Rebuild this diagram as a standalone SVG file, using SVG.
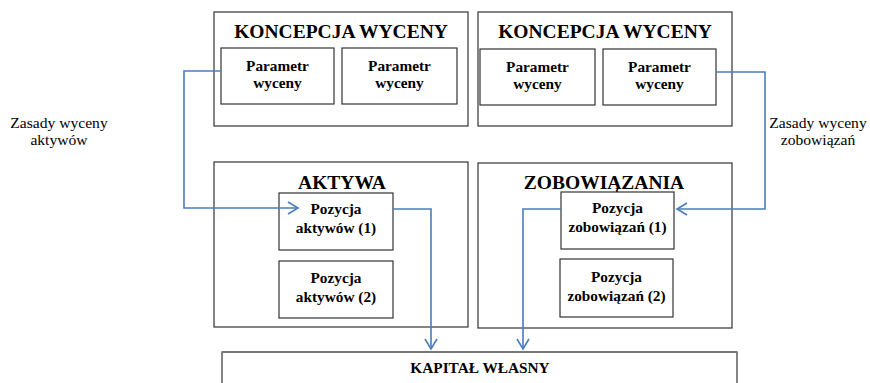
<svg xmlns="http://www.w3.org/2000/svg" width="870" height="383" viewBox="0 0 870 383">
<defs>
<marker id="chev" markerWidth="14" markerHeight="14" refX="11" refY="7" orient="auto" markerUnits="userSpaceOnUse">
<path d="M1,1 L11,7 L1,13" fill="none" stroke="#4a7ebb" stroke-width="1.6"/>
</marker>
<style>
.box{fill:#fff;stroke:#333;stroke-width:1.2}
.title{font-family:"Liberation Serif","Times New Roman",serif;font-weight:bold;font-size:19.5px;text-anchor:middle;fill:#000}
.lbl{font-family:"Liberation Serif","Times New Roman",serif;font-weight:bold;font-size:15.3px;text-anchor:middle;fill:#000}
.note{font-family:"Liberation Serif","Times New Roman",serif;font-size:15.6px;text-anchor:middle;fill:#000}
.conn{fill:none;stroke:#4a7ebb;stroke-width:1.6}
</style>
</defs>
<rect width="870" height="383" fill="#fff"/>
<g id="koncepcja1">
<rect class="box" x="214" y="12" width="254" height="114"/>
<text class="title" x="341" y="38">KONCEPCJA WYCENY</text>
</g>
<g id="param1">
<rect class="box" x="221" y="48" width="113" height="56"/>
<text class="lbl" x="277.5" y="71">Parametr</text>
<text class="lbl" x="277.5" y="88">wyceny</text>
</g>
<g id="param2">
<rect class="box" x="342" y="48" width="115" height="56"/>
<text class="lbl" x="399.5" y="71">Parametr</text>
<text class="lbl" x="399.5" y="88">wyceny</text>
</g>
<g id="koncepcja2">
<rect class="box" x="478" y="12" width="254" height="114"/>
<text class="title" x="605" y="38">KONCEPCJA WYCENY</text>
</g>
<g id="param3">
<rect class="box" x="480" y="49" width="115" height="56"/>
<text class="lbl" x="537.5" y="72">Parametr</text>
<text class="lbl" x="537.5" y="89">wyceny</text>
</g>
<g id="param4">
<rect class="box" x="603" y="49" width="113" height="56"/>
<text class="lbl" x="659.5" y="72">Parametr</text>
<text class="lbl" x="659.5" y="89">wyceny</text>
</g>
<g id="aktywa">
<rect class="box" x="214" y="162" width="254" height="165"/>
<text class="title" x="342" y="189">AKTYWA</text>
</g>
<g id="pozA1">
<rect class="box" x="279" y="193" width="114" height="57"/>
<text class="lbl" x="336" y="214">Pozycja</text>
<text class="lbl" x="336" y="233">aktywów (1)</text>
</g>
<g id="pozA2">
<rect class="box" x="279" y="261" width="114" height="57"/>
<text class="lbl" x="336" y="283">Pozycja</text>
<text class="lbl" x="336" y="302">aktywów (2)</text>
</g>
<g id="zobowiazania">
<rect class="box" x="478" y="163" width="254" height="165"/>
<text class="title" x="604" y="189">ZOBOWIĄZANIA</text>
</g>
<g id="pozZ1">
<rect class="box" x="561" y="192" width="113" height="57"/>
<text class="lbl" x="617.5" y="213">Pozycja</text>
<text class="lbl" x="617.5" y="232">zobowiązań (1)</text>
</g>
<g id="pozZ2">
<rect class="box" x="560" y="259" width="113" height="58"/>
<text class="lbl" x="616.5" y="282">Pozycja</text>
<text class="lbl" x="616.5" y="301">zobowiązań (2)</text>
</g>
<g id="kapital">
<rect class="box" x="222" y="352" width="515" height="60"/>
<line x1="222" y1="352" x2="737" y2="352" stroke="#777" stroke-width="2"/>
<text class="lbl" x="480" y="373">KAPITAŁ WŁASNY</text>
</g>
<g id="labels">
<text class="note" x="59" y="128">Zasady wyceny</text>
<text class="note" x="59" y="145">aktywów</text>
<text class="note" x="818" y="128">Zasady wyceny</text>
<text class="note" x="818" y="145">zobowiązań</text>
</g>
<g id="connectors">
<path class="conn" d="M221,71 H184 V208 H298" marker-end="url(#chev)"/>
<path class="conn" d="M716,72 H765 V209 H677" marker-end="url(#chev)"/>
<path class="conn" d="M393,209 H431 V349" marker-end="url(#chev)"/>
<path class="conn" d="M561,209 H523 V349" marker-end="url(#chev)"/>
</g>
</svg>
